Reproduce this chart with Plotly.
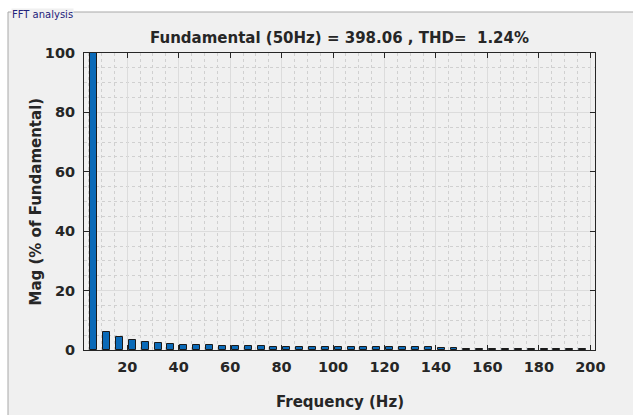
import plotly.graph_objects as go

# Data
freqs = [7, 12, 17, 22, 27, 32, 37, 42, 47, 52, 57, 62, 67, 72, 77, 82, 87, 92, 97,
         102, 107, 112, 117, 122, 127, 132, 137, 142, 147, 152, 157, 162, 167, 172,
         177, 182, 187, 192, 197]
mags = [100, 6.1, 4.4, 3.3, 2.7, 2.4, 2.0, 1.7, 1.6, 1.6, 1.4, 1.3, 1.3, 1.3, 1.0,
        1.1, 1.0, 1.0, 1.0, 0.9, 0.9, 0.9, 0.9, 0.9, 0.9, 0.9, 0.9, 0.8, 0.8, 0.5,
        0.5, 0.5, 0.5, 0.5, 0.5, 0.5, 0.5, 0.5, 0.5]
x_ticks = [20, 40, 60, 80, 100, 120, 140, 160, 180, 200]
y_ticks = [0, 20, 40, 60, 80, 100]
title_text = "Fundamental (50Hz) = 398.06 , THD=\u00a0 1.24%"

W, H = 633, 415
L, R, T, B = 84, 38, 53, 65
pw, ph = W - L - R, H - T - B

def px(x):
    return (x - L) / pw

def py(y):
    return (H - B - y) / ph

FONT = "DejaVu Sans, Verdana, sans-serif"
TXT = "#262626"

fig = go.Figure()
fig.add_trace(go.Bar(
    x=freqs, y=mags, width=2.7,
    marker=dict(color="#0a6ab8", line=dict(color="#1a1a1a", width=1)),
))

axis_common = dict(
    showline=True, linecolor="#262626", linewidth=1, mirror="allticks",
    ticks="inside", ticklen=5, tickcolor="#262626",
    showgrid=True, gridcolor="#dcdcdc", gridwidth=1, zeroline=False,
    tickfont=dict(family=FONT, size=14.5, color=TXT, weight="bold"),
)

fig.update_xaxes(range=[3.2, 201.8], tickvals=x_ticks,
                 minor=dict(dtick=5, tick0=0, showgrid=True, gridcolor="#d0d0d0",
                            griddash="dot", ticks=""),
                 ticklabelstandoff=4, **axis_common)
fig.update_yaxes(range=[0, 100], tickvals=y_ticks,
                 minor=dict(dtick=5, tick0=0, showgrid=True, gridcolor="#d0d0d0",
                            griddash="dot", ticks=""),
                 ticklabelstandoff=5, **axis_common)

shapes = [
    dict(type="rect", xref="paper", yref="paper", x0=px(8), x1=px(640), y0=py(420), y1=py(12),
         fillcolor="#f0f0f0", line=dict(color="#a8a8a8", width=1), layer="below"),
]

annotations = [
    dict(text="FFT analysis", xref="paper", yref="paper", x=px(11), y=py(14.5),
         xanchor="left", yanchor="middle", showarrow=False, bgcolor="#f0f0f0",
         borderpad=0,
         font=dict(family=FONT, size=10, color="#22227a")),
    dict(text="Frequency (Hz)", xref="paper", yref="paper", x=0.5, y=py(402),
         xanchor="center", yanchor="middle", showarrow=False,
         font=dict(family=FONT, size=15, color=TXT, weight="bold")),
    dict(text="Mag (% of Fundamental)", xref="paper", yref="paper", x=px(35), y=0.5,
         xanchor="center", yanchor="middle", showarrow=False, textangle=-90,
         font=dict(family=FONT, size=15, color=TXT, weight="bold")),
]

fig.update_layout(
    width=W, height=H,
    margin=dict(l=L, r=R, t=T, b=B, pad=0),
    paper_bgcolor="white", plot_bgcolor="white",
    showlegend=False, bargap=0,
    title=dict(text=title_text, x=px((L + W - R) / 2), xref="paper", xanchor="center",
               y=1 - 38 / H, yref="container", yanchor="middle",
               font=dict(family=FONT, size=15, color=TXT, weight="bold")),
    shapes=shapes, annotations=annotations,
)

fig.write_html("out.html")
